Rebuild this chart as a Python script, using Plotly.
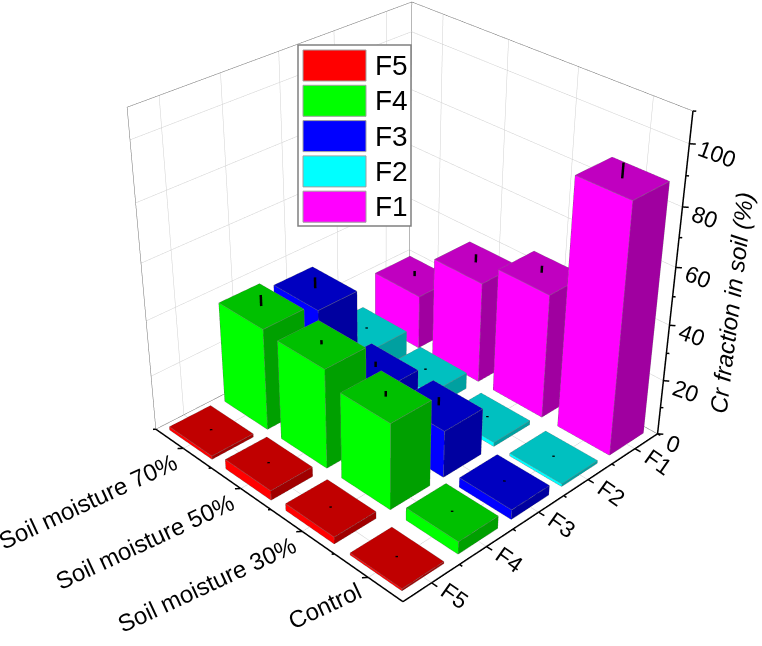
import plotly.graph_objects as go

fractions = ["F5", "F4", "F3", "F2", "F1"]
moisture = ["Control", "Soil moisture 30%", "Soil moisture 50%", "Soil moisture 70%"]
values = {
    "F5": [0.7, 2.5, 3.5, 1.2],
    "F4": [4.5, 31, 36, 37],
    "F3": [3.5, 17, 17.5, 34],
    "F2": [1.0, 1.5, 6, 9],
    "F1": [88, 45, 37, 20],
}
errors = {
    "F5": [0.5, 0.5, 0.5, 0.5],
    "F4": [0.5, 2, 1.5, 4],
    "F3": [0.5, 3, 2, 4],
    "F2": [0.5, 0.5, 0.5, 0.5],
    "F1": [5, 2.5, 3, 2],
}
colors = {
    "F5": ("#ff0000", "#c00000", "#a00000"),
    "F4": ("#00ff00", "#00c000", "#00a000"),
    "F3": ("#0000ff", "#0000c0", "#0000a0"),
    "F2": ("#00ffff", "#00c0c0", "#00a0a0"),
    "F1": ("#ff00ff", "#c000c0", "#a000a0"),
}
z_major = [0, 20, 40, 60, 80, 100]
z_minor = [10, 30, 50, 70, 90, 110]

W, H = 762, 646
SCENE_H = 1396
TOP = (SCENE_H - H) // 2
def py(p):
    return 1 - (p + TOP) / SCENE_H
xr = (-0.5, 6.5); yr = (-0.5, 5.5); zr = (-20.0, 130.0)

fig = go.Figure()
HX, HY = 0.37, 0.38
for fi, name in enumerate(fractions):
    X=[];Y=[];Z=[];I=[];J_=[];K=[];FC=[]
    ex=[];ey=[];ez=[]
    front, top, side = colors[name]
    for mi, v in enumerate(values[name]):
        cx, cy = fi+1, mi+1
        x0,x1,y0,y1 = cx-HX,cx+HX,cy-HY,cy+HY
        b=len(X)
        X+=[x0,x1,x1,x0,x0,x1,x1,x0]; Y+=[y0,y0,y1,y1,y0,y0,y1,y1]; Z+=[0,0,0,0,v,v,v,v]
        quads=[((0,1,5,4),side),((4,5,6,7),top),((0,3,7,4),front),((1,2,6,5),side),((2,3,7,6),side),((0,1,2,3),side)]
        for (a,bb,c,d),col in quads:
            I+=[b+a,b+a];J_+=[b+bb,b+c];K+=[b+c,b+d];FC+=[col,col]
        for a,c in [(0,1),(1,2),(2,3),(3,0),(4,5),(5,6),(6,7),(7,4),(0,4),(1,5),(2,6),(3,7)]:
            ex+=[X[b+a],X[b+c],None];ey+=[Y[b+a],Y[b+c],None];ez+=[Z[b+a],Z[b+c],None]
    fig.add_trace(go.Mesh3d(x=X,y=Y,z=Z,i=I,j=J_,k=K,facecolor=FC,flatshading=True,name=name,
        lighting=dict(ambient=1,diffuse=0,specular=0,fresnel=0,roughness=1),hoverinfo="skip"))
    fig.add_trace(go.Scatter3d(x=ex,y=ey,z=ez,mode="lines",line=dict(color="#808080",width=1),showlegend=False,hoverinfo="skip"))

def seg(L, a, b):
    L[0]+=[a[0],b[0],None];L[1]+=[a[1],b[1],None];L[2]+=[a[2],b[2],None]
xa,xb,ya,yb,ztop=0.5,5.5,0.5,4.5,110
grid=[[],[],[]]; edge=[[],[],[]]; axis=[[],[],[]]; err=[[],[],[]]
for i in range(len(fractions)):
    seg(grid,(i+1,ya,0),(i+1,yb,0)); seg(grid,(i+1,yb,0),(i+1,yb,ztop))
for i in range(len(moisture)):
    seg(grid,(xa,i+1,0),(xb,i+1,0)); seg(grid,(xb,i+1,0),(xb,i+1,ztop))
for z in z_major[1:]:
    seg(grid,(xa,yb,z),(xb,yb,z)); seg(grid,(xb,yb,z),(xb,ya,z))
seg(edge,(xa,yb,0),(xa,yb,ztop));seg(edge,(xa,yb,ztop),(xb,yb,ztop));seg(edge,(xb,yb,ztop),(xb,ya,ztop))
seg(edge,(xb,yb,0),(xb,yb,ztop));seg(edge,(xa,yb,0),(xb,yb,0));seg(edge,(xb,yb,0),(xb,ya,0))
seg(axis,(xa,yb,0),(xa,ya,0));seg(axis,(xa,ya,0),(xb,ya,0));seg(axis,(xb,ya,0),(xb,ya,ztop))
for i in range(len(moisture)):
    seg(axis,(xa,i+1,0),(xa-0.06,i+1+0.04,0))
    seg(axis,(xa,i+1.5,0),(xa-0.03,i+1.5+0.02,0))
for i in range(len(fractions)):
    seg(axis,(i+1,ya,0),(i+1,ya-0.08,0))
    seg(axis,(i+1.5,ya,0),(i+1.5,ya-0.04,0))
for z in z_major:
    seg(axis,(xb,ya,z),(xb+0.05,ya-0.05,z))
for z in z_minor:
    seg(axis,(xb,ya,z),(xb+0.025,ya-0.025,z))
for fi,name in enumerate(fractions):
    for mi,v in enumerate(values[name]):
        seg(err,(fi+1,mi+1,v),(fi+1,mi+1,v+errors[name][mi]))
for L,c,w in [(grid,"#d0d0d0",1),(edge,"#707070",1),(axis,"#000000",3),(err,"#000000",5)]:
    fig.add_trace(go.Scatter3d(x=L[0],y=L[1],z=L[2],mode="lines",line=dict(color=c,width=w),showlegend=False,hoverinfo="skip"))

FONT="Liberation Sans"
ann=[]
for i,t in enumerate(moisture):
    ann.append(dict(x=xa,y=i+1,z=0,text=t,textangle=-25,showarrow=False,xanchor="right",yanchor="top",xshift=0,yshift=3,font=dict(family=FONT,size=24,color="#000")))
for i,t in enumerate(fractions):
    ann.append(dict(x=i+1,y=ya,z=0,text=t,textangle=35,showarrow=False,xanchor="left",yanchor="top",xshift=2,yshift=8,font=dict(family=FONT,size=23,color="#000")))
for z in z_major:
    ann.append(dict(x=xb,y=ya,z=z,text=str(z),textangle=20,showarrow=False,xanchor="left",yanchor="middle",xshift=3,yshift=-10,font=dict(family=FONT,size=23,color="#000")))
ann.append(dict(x=xb,y=ya,z=45,text="<i>Cr fraction in soil (%)</i>",textangle=-83,showarrow=False,xanchor="center",yanchor="middle",xshift=60,yshift=8,font=dict(family=FONT,size=24,color="#000")))

hidden=dict(visible=False,showgrid=False,zeroline=False,showbackground=False,showspikes=False)
shapes=[dict(type="rect",xref="paper",yref="paper",x0=298/W,x1=411/W,y0=py(45),y1=py(226),fillcolor="#fff",line=dict(color="#808080",width=1.5))]
annp=[]
for i,name in enumerate(fractions):
    t=50+i*35.3
    shapes.append(dict(type="rect",xref="paper",yref="paper",x0=303/W,x1=366/W,y0=py(t),y1=py(t+31),fillcolor=colors[name][0],line=dict(color="#a0a0a0",width=1)))
    annp.append(dict(xref="paper",yref="paper",x=373/W,y=py(t+15.5),text=name,showarrow=False,xanchor="left",yanchor="middle",font=dict(family=FONT,size=28,color="#000")))
fig.update_layout(width=W,height=SCENE_H,margin=dict(l=0,r=0,t=0,b=0),paper_bgcolor="#fff",showlegend=False,shapes=shapes,annotations=annp,
  scene=dict(domain=dict(x=[0,1],y=[0,1]),
    xaxis=dict(range=list(xr),**hidden),yaxis=dict(range=list(yr),**hidden),zaxis=dict(range=list(zr),**hidden),
    aspectmode="manual",aspectratio=dict(x=1,y=1.0623,z=0.9680),
    camera=dict(eye=dict(x=-1.9267,y=-1.9314,z=1.6505),center=dict(x=-0.0719,y=-0.0019,z=-0.0638),up=dict(x=0,y=0,z=1),projection=dict(type="perspective")),
    annotations=ann))
post=f"""document.documentElement.style.overflow='hidden';document.body.style.overflow='hidden';document.body.style.margin='0';
var g=document.querySelector('.plotly-graph-div');g.style.position='absolute';g.style.left='0';g.style.top='-{TOP}px';"""
fig.write_html("out.html",post_script=post,config={"displayModeBar":False})
